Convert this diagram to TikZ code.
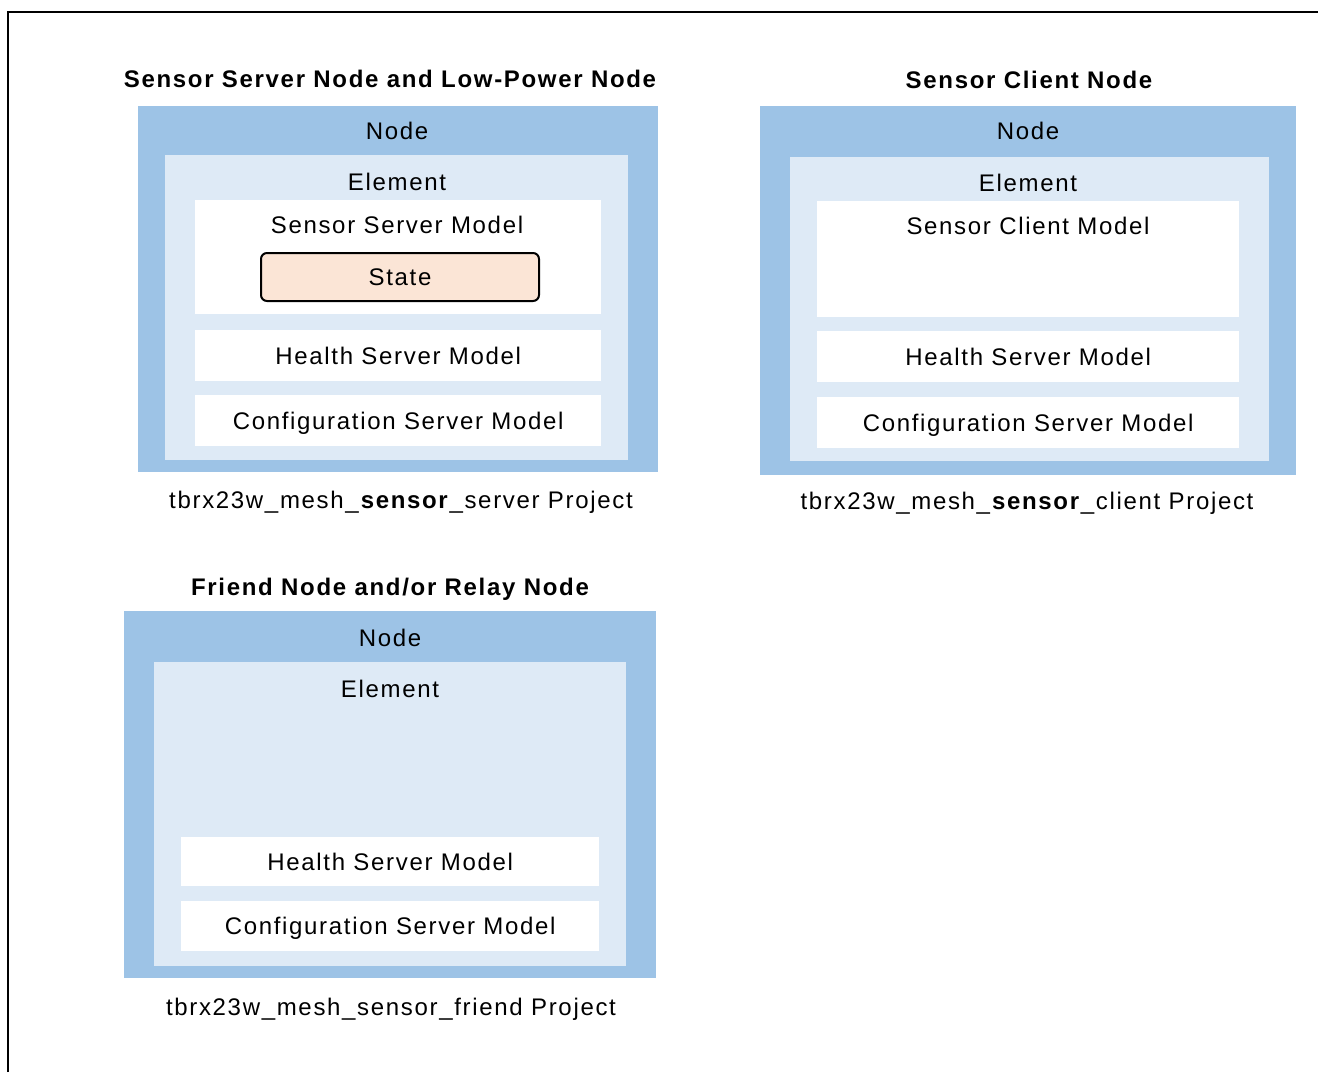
\documentclass[tikz,border=0pt]{standalone}
\usepackage{fontspec}
\setmainfont{Liberation Sans}[LetterSpace=7]
\definecolor{nodeblue}{HTML}{9DC3E6}
\definecolor{elemblue}{HTML}{DEEAF6}
\definecolor{statefill}{HTML}{FBE5D6}
\begin{document}
\begin{tikzpicture}[x=1pt,y=-1pt,
  lbl/.style={inner sep=0pt,text height=17pt,text depth=0pt,font=\fontsize{24}{29}\selectfont},
  ttl/.style={lbl,font=\fontsize{24}{29}\selectfont\bfseries},
  nodebox/.style={fill=nodeblue,draw=none,inner sep=0pt,anchor=north west},
  elembox/.style={fill=elemblue,draw=none,inner sep=0pt,anchor=north west},
  modelbox/.style={fill=white,draw=none,inner sep=0pt,anchor=north west},
  statebox/.style={fill=statefill,draw=black,line width=2pt,rounded corners=6pt,inner sep=0pt,anchor=north west}]
\useasboundingbox (0,0) rectangle (1318,1072);
% frame
\draw[line width=2pt] (8,1072) -- (8,12) -- (1318,12);

% ---- Sensor server node ----
\node[ttl] (t1) at (390,79) {Sensor Server Node and Low-Power Node};
\node[nodebox,minimum width=520pt,minimum height=366pt] (n1) at (138,106) {};
\node[elembox,minimum width=463pt,minimum height=305pt] (e1) at (165,155) {};
\node[modelbox,minimum width=406pt,minimum height=114pt] (m1) at (195,200) {};
\node[statebox,minimum width=278pt,minimum height=48pt] (s1) at (260,252) {};
\node[modelbox,minimum width=406pt,minimum height=51pt] (h1) at (195,330) {};
\node[modelbox,minimum width=406pt,minimum height=51pt] (c1) at (195,395) {};
\node[lbl] (n1l) at (397,131) {Node};
\node[lbl] (e1l) at (397,182) {Element};
\node[lbl] (m1l) at (397,225) {Sensor Server Model};
\node[lbl] (s1l) at (s1.center) {State};
\node[lbl] (h1l) at (h1.center) {Health Server Model};
\node[lbl] (c1l) at (c1.center) {Configuration Server Model};
\node[lbl] (p1) at (401,500) {tbrx23w\_mesh\_\textbf{sensor}\_server Project};

% ---- Sensor client node ----
\node[ttl] (t2) at (1029,80) {Sensor Client Node};
\node[nodebox,minimum width=536pt,minimum height=369pt] (n2) at (760,106) {};
\node[elembox,minimum width=479pt,minimum height=304pt] (e2) at (790,157) {};
\node[modelbox,minimum width=422pt,minimum height=116pt] (m2) at (817,201) {};
\node[modelbox,minimum width=422pt,minimum height=51pt] (h2) at (817,331) {};
\node[modelbox,minimum width=422pt,minimum height=51pt] (c2) at (817,397) {};
\node[lbl] (n2l) at (1028,131) {Node};
\node[lbl] (e2l) at (1028,183) {Element};
\node[lbl] (m2l) at (1028,226) {Sensor Client Model};
\node[lbl] (h2l) at (h2.center) {Health Server Model};
\node[lbl] (c2l) at (c2.center) {Configuration Server Model};
\node[lbl] (p2) at (1027,501) {tbrx23w\_mesh\_\textbf{sensor}\_client Project};

% ---- Friend / relay node ----
\node[ttl] (t3) at (390,587) {Friend Node and/or Relay Node};
\node[nodebox,minimum width=532pt,minimum height=367pt] (n3) at (124,611) {};
\node[elembox,minimum width=472pt,minimum height=304pt] (e3) at (154,662) {};
\node[modelbox,minimum width=418pt,minimum height=49pt] (h3) at (181,837) {};
\node[modelbox,minimum width=418pt,minimum height=50pt] (c3) at (181,901) {};
\node[lbl] (n3l) at (390,638) {Node};
\node[lbl] (e3l) at (390,689) {Element};
\node[lbl] (h3l) at (h3.center) {Health Server Model};
\node[lbl] (c3l) at (c3.center) {Configuration Server Model};
\node[lbl] (p3) at (391,1007) {tbrx23w\_mesh\_sensor\_friend Project};
\end{tikzpicture}
\end{document}
